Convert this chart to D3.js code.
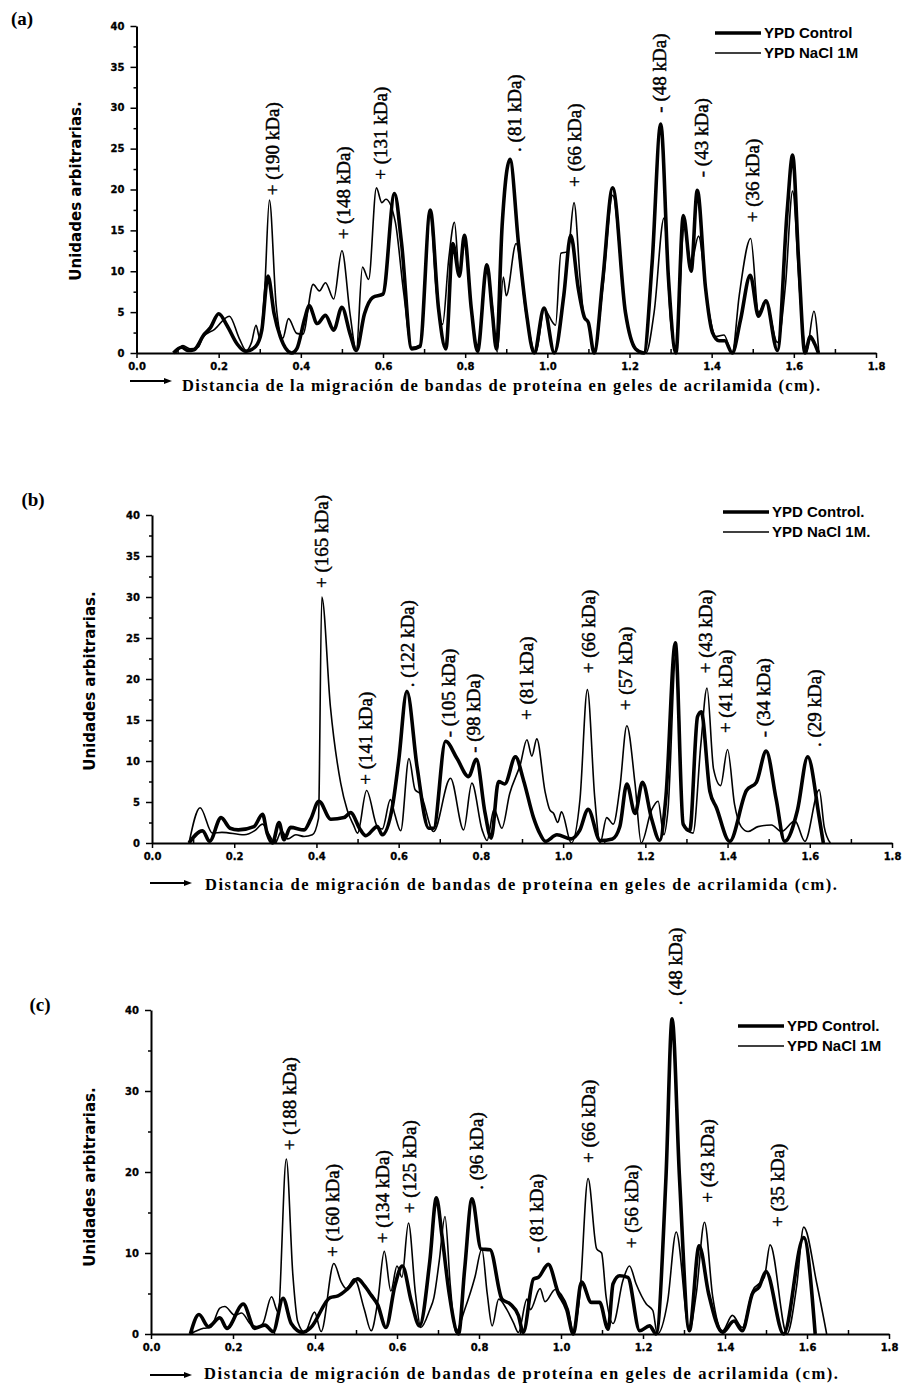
<!DOCTYPE html>
<html lang="es">
<head>
<meta charset="UTF-8">
<title>Densitometría de bandas de proteína</title>
<script src="https://cdn.jsdelivr.net/npm/d3@7"></script>
<style>
  body { margin: 0; background: #fff; }
  .tick text { font-family: "DejaVu Sans", sans-serif; font-weight: bold; font-size: 10px; fill: #000; stroke: #000; stroke-width: 0.3px; }
  .domain { stroke: #000; stroke-width: 2px; }
  .tick line { stroke: #000; stroke-width: 1.5px; }
</style>
</head>
<body>
<svg id="chart" width="902" height="1391"></svg>
<script>
// tick values
const xTicks = [0, 0.2, 0.4, 0.6, 0.8, 1.0, 1.2, 1.4, 1.6, 1.8]
const yTicksAB = [0, 5, 10, 15, 20, 25, 30, 35, 40]
const yTicksC = [0, 10, 20, 30, 40]

// (a) densitometry traces [cm, units]
const aControl = [[0.09,0],[0.11,0.7],[0.125,0.3],[0.14,0.4],[0.165,2.3],[0.18,3.1],[0.2,4.8],[0.22,3.4],[0.245,1.1],[0.265,0.2],[0.29,0.8],[0.305,2.8],[0.32,9.4],[0.335,4.8],[0.35,2],[0.378,0],[0.39,0.5],[0.41,4.3],[0.42,5.8],[0.44,3.6],[0.46,4.6],[0.48,2.8],[0.5,5.6],[0.52,2.3],[0.535,0.3],[0.555,4.8],[0.575,6.8],[0.6,7.2],[0.628,19.5],[0.645,13.5],[0.67,0.5],[0.69,0.8],[0.715,17.5],[0.735,5.5],[0.753,0.5],[0.77,13.4],[0.786,9.4],[0.798,14.4],[0.815,5.4],[0.83,0.2],[0.853,10.8],[0.866,5],[0.876,0.5],[0.89,15.6],[0.909,23.7],[0.93,13.3],[0.948,5.3],[0.968,0],[0.992,5.5],[1.017,0],[1.04,7],[1.057,14.4],[1.075,8],[1.09,4.4],[1.1,3.7],[1.114,0],[1.135,9],[1.159,20.2],[1.19,5],[1.215,0.5],[1.235,0],[1.255,11],[1.276,28],[1.295,9],[1.313,0],[1.331,16.8],[1.35,10],[1.365,19.9],[1.385,8],[1.402,2.5],[1.418,1.5],[1.432,1.5],[1.45,0],[1.47,4],[1.494,9.5],[1.514,4.5],[1.532,6.4],[1.56,0.3],[1.584,17.5],[1.597,24.2],[1.612,11],[1.627,0],[1.64,2],[1.65,1.2],[1.66,0]]
const aNacl = [[0.095,0],[0.113,0.9],[0.13,0.5],[0.15,0.7],[0.161,1.9],[0.19,2.9],[0.226,4.5],[0.25,1.8],[0.267,0.3],[0.28,1.3],[0.291,3.4],[0.3,1.8],[0.312,7.8],[0.3235,18.7],[0.34,5.8],[0.356,1.8],[0.37,4.2],[0.39,2.4],[0.405,2.3],[0.43,8.4],[0.445,7.6],[0.46,8.6],[0.48,6.6],[0.5,12.5],[0.52,4.7],[0.535,0.3],[0.55,10.5],[0.565,9],[0.584,20.2],[0.597,18.4],[0.607,18.8],[0.63,16],[0.65,7.5],[0.67,0.7],[0.69,1],[0.715,17],[0.73,7.5],[0.745,3.5],[0.76,11.5],[0.774,16],[0.786,9.5],[0.798,13.5],[0.815,5.5],[0.83,0.2],[0.853,10.3],[0.865,6.3],[0.878,0.1],[0.893,9.3],[0.9,7],[0.924,13.4],[0.95,4.2],[0.972,0],[0.992,5.3],[1.02,3.4],[1.033,12.2],[1.05,12.4],[1.065,18.4],[1.08,9],[1.09,4.3],[1.1,3.7],[1.114,0],[1.135,8],[1.159,19.3],[1.19,5],[1.21,0.8],[1.222,0.3],[1.24,0],[1.26,5],[1.284,16.5],[1.3,4],[1.313,0],[1.333,15.3],[1.35,11],[1.368,14.3],[1.39,6],[1.41,2],[1.43,2.2],[1.45,0],[1.467,7],[1.495,14],[1.514,5],[1.532,6.3],[1.56,1.3],[1.58,8.5],[1.597,19.8],[1.615,7],[1.63,0],[1.649,5.1],[1.661,0]]
const aNotes = [[0.331,19.3,'+ (190 kDa)'],[0.504,13.9,'+ (148 kDa)'],[0.594,21.2,'+ (131 kDa)'],[0.919,24.6,'. (81 kDa)'],[1.065,20.3,'+ (66 kDa)'],[1.272,29.4,'- (48 kDa)'],[1.374,21.5,'- (43 kDa)'],[1.498,16.0,'+ (36 kDa)']]
const aLegend = ['YPD Control', 'YPD NaCl 1M']

// (b)
const bControl = [[0.09,0],[0.123,1.5],[0.14,0.2],[0.168,3.1],[0.19,1.8],[0.21,1.6],[0.248,2.0],[0.269,3.5],[0.28,1.2],[0.293,0],[0.309,2.5],[0.321,0.4],[0.337,1.9],[0.37,1.6],[0.386,2.9],[0.406,5.1],[0.435,2.9],[0.467,3.1],[0.483,3.7],[0.507,1.6],[0.52,0.9],[0.548,2.0],[0.56,1.0],[0.585,4.5],[0.6,10],[0.62,18.5],[0.645,9.2],[0.673,1.8],[0.685,1.8],[0.714,12.4],[0.742,10.3],[0.77,8.1],[0.789,10.2],[0.81,3.7],[0.825,0.6],[0.843,7.5],[0.858,7.2],[0.884,10.5],[0.904,7.6],[0.928,3.1],[0.944,1.1],[0.957,0.2],[0.985,1],[1.02,0.5],[1.04,1.5],[1.061,4.1],[1.09,0.3],[1.12,0.5],[1.138,2],[1.155,7.2],[1.175,3.6],[1.193,7.4],[1.215,3],[1.235,0.3],[1.25,5.6],[1.273,24.4],[1.292,2.3],[1.308,1.5],[1.327,15.4],[1.336,16],[1.357,6.3],[1.373,4.3],[1.405,0.2],[1.446,6.4],[1.47,7.4],[1.494,11.2],[1.518,5.4],[1.539,0.2],[1.57,4],[1.595,10.5],[1.623,3.1],[1.633,0]]
const bNacl = [[0.09,0],[0.117,4.3],[0.147,1.2],[0.17,1.3],[0.224,1.0],[0.25,1.5],[0.269,2.3],[0.285,1],[0.3,0],[0.315,1.5],[0.33,0.5],[0.35,1.0],[0.37,0.8],[0.39,1.0],[0.405,3],[0.413,30.0],[0.434,16.6],[0.459,7.3],[0.475,4.0],[0.49,2.2],[0.5,1.2],[0.522,6.4],[0.548,2.0],[0.56,1.7],[0.58,5.3],[0.59,3.6],[0.605,1.5],[0.625,10.3],[0.64,6.5],[0.653,6.0],[0.685,1.4],[0.726,7.9],[0.758,1.6],[0.778,7.3],[0.803,1.6],[0.815,0.3],[0.832,4.1],[0.851,1.8],[0.87,6],[0.896,9.6],[0.912,12.6],[0.924,10.6],[0.936,12.7],[0.956,6.3],[0.968,4],[0.977,3.6],[0.987,2.5],[0.996,3.8],[1.02,0],[1.041,5.3],[1.059,18.7],[1.077,5.5],[1.09,0],[1.106,3.1],[1.122,2.3],[1.138,6.7],[1.155,14.3],[1.175,7.2],[1.19,0],[1.215,4],[1.231,5.1],[1.245,1],[1.255,4],[1.275,23.5],[1.292,2.3],[1.316,1.2],[1.335,12],[1.35,18.9],[1.366,9.0],[1.383,7.0],[1.4,11.4],[1.417,4.7],[1.433,2.0],[1.45,1.4],[1.474,2.0],[1.507,2.2],[1.531,1.4],[1.564,2.7],[1.588,0.2],[1.623,6.5],[1.635,2.0],[1.65,0]]
const bNotes = [[0.411,31.1,'+ (165 kDa)'],[0.52,7.1,'+ (141 kDa)'],[0.62,19.0,'. (122 kDa)'],[0.722,12.9,'- (105 kDa)'],[0.782,11.0,'- (98 kDa)'],[0.911,15.0,'+ (81 kDa)'],[1.062,20.7,'+ (66 kDa)'],[1.151,16.2,'+ (57 kDa)'],[1.345,20.7,'+ (43 kDa)'],[1.394,13.4,'+ (41 kDa)'],[1.486,12.9,'- (34 kDa)'],[1.612,11.7,'. (29 kDa)']]
const bLegend = ['YPD Control.', 'YPD NaCl 1M.']

// (c)
const cControl = [[0.096,0],[0.117,2.4],[0.14,0.9],[0.168,2.0],[0.185,0.7],[0.225,3.7],[0.253,0.7],[0.278,1.1],[0.298,0.3],[0.322,4.4],[0.342,1.3],[0.37,0.2],[0.39,0.8],[0.437,4.5],[0.456,4.7],[0.48,5.6],[0.504,6.8],[0.52,6.0],[0.537,4.8],[0.553,3.6],[0.573,0.8],[0.595,6],[0.613,8.4],[0.635,4],[0.655,1],[0.68,9],[0.696,16.8],[0.71,12],[0.727,5.1],[0.75,0],[0.765,8],[0.783,16.7],[0.805,10.5],[0.827,10.4],[0.856,4.3],[0.876,3.7],[0.896,2.3],[0.908,0.2],[0.933,6.8],[0.945,7.0],[0.969,8.6],[0.993,5.1],[1.014,3.0],[1.03,0],[1.05,6.4],[1.074,3.9],[1.094,3.9],[1.115,0.6],[1.127,6.2],[1.143,7.2],[1.163,7.0],[1.192,0.4],[1.216,1.0],[1.232,0],[1.256,19.3],[1.271,38.9],[1.289,19.3],[1.313,0.4],[1.337,10.9],[1.36,5],[1.394,0.2],[1.422,1.6],[1.442,0.4],[1.467,5.0],[1.483,5.8],[1.5,7.7],[1.543,0],[1.592,11.9],[1.62,0]]
const cNacl = [[0.096,0],[0.128,0.7],[0.145,0.8],[0.168,3.2],[0.18,3.4],[0.205,2.3],[0.221,2.6],[0.245,1.1],[0.262,0.9],[0.273,1.3],[0.294,4.6],[0.31,2.7],[0.33,21.6],[0.346,7.3],[0.358,1.5],[0.375,0.2],[0.399,2.7],[0.415,0.3],[0.446,8.7],[0.464,6.4],[0.476,5.6],[0.496,6.8],[0.52,3.1],[0.537,0.4],[0.553,4],[0.569,10.2],[0.585,5.3],[0.6,8.4],[0.612,7],[0.628,13.7],[0.645,5],[0.658,0.8],[0.68,3],[0.69,4.5],[0.703,9],[0.717,14.5],[0.73,6],[0.743,0.2],[0.765,3],[0.79,7],[0.807,10.5],[0.82,5],[0.832,1.0],[0.848,4.3],[0.868,3],[0.884,1.4],[0.896,0.2],[0.917,4.3],[0.925,3],[0.949,5.6],[0.961,4],[0.986,5.5],[1.0,4.9],[1.018,3],[1.03,0.2],[1.046,4.9],[1.066,19.2],[1.087,10.5],[1.099,10],[1.11,4.6],[1.127,1.3],[1.151,6.6],[1.167,8.4],[1.183,6.2],[1.208,3.7],[1.224,2.9],[1.235,0],[1.26,4],[1.281,12.6],[1.313,0.5],[1.33,5],[1.35,13.8],[1.37,4.6],[1.394,0.4],[1.418,2.3],[1.442,0.8],[1.467,5.3],[1.496,7],[1.51,11],[1.551,0],[1.575,6],[1.592,13.2],[1.624,6.2],[1.648,0]]
const cNotes = [[0.338,22.7,'+ (188 kDa)'],[0.443,9.5,'+ (160 kDa)'],[0.564,11.2,'+ (134 kDa)'],[0.629,14.9,'+ (125 kDa)'],[0.794,17.8,'. (96 kDa)'],[0.94,10.0,'- (81 kDa)'],[1.066,21.1,'+ (66 kDa)'],[1.171,10.6,'+ (56 kDa)'],[1.278,40.6,'. (48 kDa)'],[1.358,16.2,'+ (43 kDa)'],[1.527,13.2,'+ (35 kDa)']]
const cLegend = ['YPD Control.', 'YPD NaCl 1M']

const titleA = 'Distancia de la migración de bandas de proteína en geles de acrilamida (cm).'
const titleBC = 'Distancia de migración de bandas de proteína en geles de acrilamida (cm).'
const yTitle = 'Unidades arbitrarias.'

const svg = d3.select('#chart')

const panels = [
  {tag: '(a)', tagX: 22, tagY: 25, x0: 136.5, x1: 876, y0: 353, y1: 26, yTicks: yTicksAB, yMinor: 2.5,
   control: aControl, nacl: aNacl, notes: aNotes, legend: aLegend, legX: 715, legY: 33,
   title: titleA, titleX: 182, titleY: 391, titleLen: 638, arrowX: 130, arrowY: 381, yLabX: 76, yLabY: 191},
  {tag: '(b)', tagX: 33, tagY: 506, x0: 152, x1: 892, y0: 843, y1: 515, yTicks: yTicksAB, yMinor: 2.5,
   control: bControl, nacl: bNacl, notes: bNotes, legend: bLegend, legX: 723, legY: 512,
   title: titleBC, titleX: 205, titleY: 890, titleLen: 632, arrowX: 150, arrowY: 883, yLabX: 90, yLabY: 681},
  {tag: '(c)', tagX: 40, tagY: 1011, x0: 151, x1: 889, y0: 1334, y1: 1010, yTicks: yTicksC, yMinor: 5,
   control: cControl, nacl: cNacl, notes: cNotes, legend: cLegend, legX: 738, legY: 1026,
   title: titleBC, titleX: 204, titleY: 1379, titleLen: 634, arrowX: 150, arrowY: 1375, yLabX: 90, yLabY: 1177}
]

panels.forEach(p => {
  let x = d3.scaleLinear().domain([0, 1.8]).range([p.x0, p.x1])
  let y = d3.scaleLinear().domain([0, 40]).range([p.y0, p.y1])
  let g = svg.append('g')

  // panel letter
  g.append('text')
   .attr('x', p.tagX).attr('y', p.tagY)
   .attr('text-anchor', 'middle')
   .style('font-family', '"Liberation Serif", serif')
   .style('font-weight', 'bold').style('font-size', '19px')
   .text(p.tag)

  // minor ticks
  let xMinor = d3.range(0.1, 1.8, 0.2)
  g.append('g')
   .attr('transform', `translate(0, ${p.y0})`)
   .call(d3.axisBottom(x).tickValues(xMinor).tickSize(-4).tickFormat(''))
   .call(s => s.select('.domain').remove())
  let yMinor = d3.range(p.yMinor, 40, p.yMinor * 2)
  g.append('g')
   .attr('transform', `translate(${p.x0}, 0)`)
   .call(d3.axisLeft(y).tickValues(yMinor).tickSize(3).tickFormat(''))
   .call(s => s.select('.domain').remove())

  // main axes
  g.append('g')
   .attr('transform', `translate(0, ${p.y0})`)
   .call(d3.axisBottom(x).tickValues(xTicks).tickSize(5).tickSizeOuter(0).tickPadding(5).tickFormat(d3.format('.1f')))
  g.append('g')
   .attr('transform', `translate(${p.x0}, 0)`)
   .call(d3.axisLeft(y).tickValues(p.yTicks).tickSize(6).tickSizeOuter(0).tickPadding(6).tickFormat(d3.format('d')))

  // traces
  let line = d3.line()
    .x(d => x(d[0]))
    .y(d => y(d[1]))
    .curve(d3.curveMonotoneX)
  g.append('path').datum(p.nacl)
   .attr('d', line).attr('fill', 'none')
   .attr('stroke', '#000').attr('stroke-width', 1.6)
   .attr('stroke-linejoin', 'round')
  g.append('path').datum(p.control)
   .attr('d', line).attr('fill', 'none')
   .attr('stroke', '#000').attr('stroke-width', 3.6)
   .attr('stroke-linejoin', 'round')

  // kDa notes, rotated
  g.selectAll('.note')
   .data(p.notes)
   .enter()
   .append('text')
   .attr('class', 'note')
   .attr('transform', d => `translate(${x(d[0])}, ${y(d[1])}) rotate(-90)`)
   .attr('dy', '0.35em')
   .style('font-family', '"Liberation Serif", serif')
   .style('font-size', '19px')
   .style('stroke', '#000').style('stroke-width', '0.45px')
   .text(d => d[2])

  // legend
  p.legend.forEach((t, i) => {
    let ly = p.legY + i * 20
    g.append('line')
     .attr('x1', p.legX).attr('x2', p.legX + 46)
     .attr('y1', ly).attr('y2', ly)
     .attr('stroke', '#000').attr('stroke-width', i == 0 ? 3.4 : 1.6)
    g.append('text')
     .attr('x', p.legX + 49).attr('y', ly + 5)
     .style('font-family', '"Liberation Sans", Arial, sans-serif')
     .style('font-weight', 'bold').style('font-size', '15px')
     .text(t)
  })

  // y title
  g.append('text')
   .attr('transform', `translate(${p.yLabX}, ${p.yLabY}) rotate(-90)`)
   .attr('text-anchor', 'middle').attr('dy', '0.35em')
   .style('font-family', '"DejaVu Sans", sans-serif')
   .style('font-weight', 'bold').style('font-size', '15px')
   .text(yTitle)

  // x title with arrow
  g.append('line')
   .attr('x1', p.arrowX).attr('x2', p.arrowX + 36)
   .attr('y1', p.arrowY).attr('y2', p.arrowY)
   .attr('stroke', '#000').attr('stroke-width', 2)
  g.append('path')
   .attr('d', `M${p.arrowX + 42},${p.arrowY} l-8,-3 l0,6 z`)
   .attr('fill', '#000')
  g.append('text')
   .attr('x', p.titleX).attr('y', p.titleY)
   .attr('textLength', p.titleLen).attr('lengthAdjust', 'spacing')
   .style('font-family', '"Liberation Serif", serif')
   .style('font-weight', 'bold').style('font-size', '16.5px')
   .text(p.title)
})
</script>
</body>
</html>
